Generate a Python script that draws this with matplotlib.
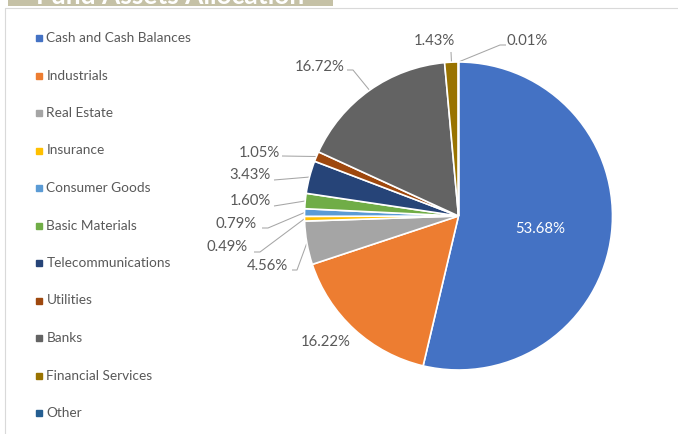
import matplotlib
matplotlib.use("Agg")
import matplotlib.pyplot as plt
import numpy as np
from matplotlib.patches import Rectangle

# ---------------- data ----------------
categories = ["Cash and Cash Balances", "Industrials", "Real Estate", "Insurance",
              "Consumer Goods", "Basic Materials", "Telecommunications", "Utilities",
              "Banks", "Financial Services", "Other"]
values = [53.68, 16.22, 4.56, 0.49, 0.79, 1.60, 3.43, 1.05, 16.72, 1.43, 0.01]
value_labels = [f"{v:.2f}%" for v in values]
title = "Fund Assets Allocation"

# ---------------- style ----------------
colors = ["#4472C4", "#ED7D31", "#A5A5A5", "#FFC000", "#5B9BD5", "#70AD47",
          "#264478", "#9E480E", "#636363", "#997300", "#255E91"]
TXT = "#595959"
LEAD = "#A6A6A6"
FONT = ["Lato", "DejaVu Sans"]

W, H = 678, 434
fig = plt.figure(figsize=(W / 100, H / 100), dpi=100)
ax = fig.add_axes([0, 0, 1, 1])


def Y(p):
    return H - p


CX, CY, R = 458.5, Y(216), 154

wedges, _ = ax.pie(values, colors=colors, startangle=90, counterclock=False,
                   center=(CX, CY), radius=R,
                   wedgeprops=dict(edgecolor="white", linewidth=1.2))
ax.set_xlim(0, W)
ax.set_ylim(0, H)
ax.set_aspect("equal")
ax.axis("off")

# label layout (pixel coords from top-left): text pos, ha, leader points (from text side)
layout = [
    dict(t=(540, 229), ha="center", color="white", lead=None),
    dict(t=(326, 342), ha="center", lead=None),
    dict(t=(288, 266), ha="right", lead=[(292, 270), (297, 270)]),
    dict(t=(248, 247), ha="right", lead=[(254, 252), (260, 252)]),
    dict(t=(257, 224), ha="right", lead=[(262, 228), (268, 228)]),
    dict(t=(271, 201), ha="right", lead=[(274, 206)]),
    dict(t=(271, 175), ha="right", lead=[(274, 180)]),
    dict(t=(280, 153), ha="right", lead=[(282, 156)]),
    dict(t=(345, 67), ha="right", lead=[(347, 70), (353, 70)]),
    dict(t=(434, 41), ha="center", lead=[(451, 52)]),
    dict(t=(527, 41), ha="center", lead=[(506, 45), (500, 45)]),
]

for w, lab, lay in zip(wedges, value_labels, layout):
    tx, ty = lay["t"]
    ax.text(tx, Y(ty), lab, ha=lay["ha"], va="center", fontsize=10.7,
            color=lay.get("color", TXT), family=FONT)
    if lay["lead"]:
        mid = np.deg2rad((w.theta1 + w.theta2) / 2)
        ex = w.center[0] + w.r * np.cos(mid)
        ey = w.center[1] + w.r * np.sin(mid)
        xs = [p[0] for p in lay["lead"]] + [ex]
        ys = [Y(p[1]) for p in lay["lead"]] + [ey]
        ax.plot(xs, ys, color=LEAD, lw=0.75, solid_capstyle="butt", zorder=0.5)

# legend (manual, Excel style)
for i, (cat, col) in enumerate(zip(categories, colors)):
    yy = Y(38 + 37.5 * i)
    ax.plot([38.5], [yy], marker="s", ms=4.3, color=col, mec=col, ls="none")
    ax.text(46.5, yy, cat, ha="left", va="center", fontsize=9.8, color=TXT, family=FONT)

# chart border
ax.plot([5, 5, W], [0, Y(7.5), Y(7.5)], color="#D9D9D9", lw=0.8, clip_on=False)

# cut-off title tab
ax.add_patch(Rectangle((8, Y(6)), 325, 6, facecolor="#C5C1A6", edgecolor="none", clip_on=False))
ax.text(170, Y(4), title, ha="center", va="baseline", fontsize=19, fontweight="bold",
        color="white", family=FONT, clip_on=False)

fig.savefig("out.png", dpi=100)
